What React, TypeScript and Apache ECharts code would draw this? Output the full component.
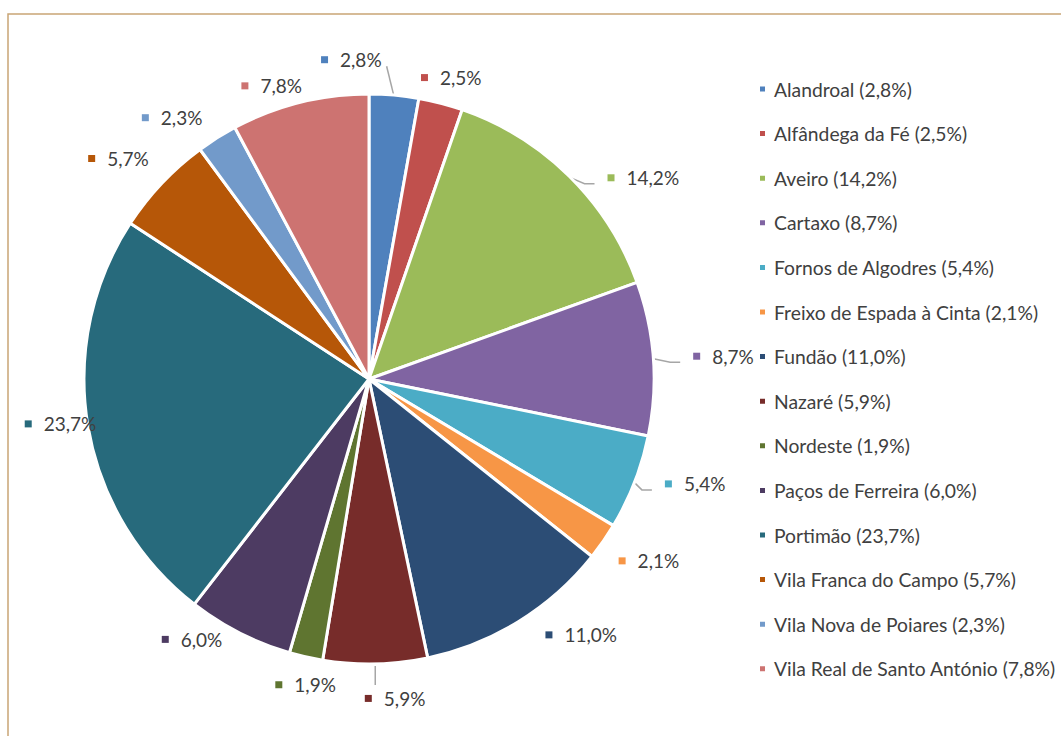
import React, { useEffect, useRef } from 'react';
import * as echarts from 'echarts';

const categories = [
  'Alandroal',
  'Alfândega da Fé',
  'Aveiro',
  'Cartaxo',
  'Fornos de Algodres',
  'Freixo de Espada à Cinta',
  'Fundão',
  'Nazaré',
  'Nordeste',
  'Paços de Ferreira',
  'Portimão',
  'Vila Franca do Campo',
  'Vila Nova de Poiares',
  'Vila Real de Santo António',
];
const values = [2.8, 2.5, 14.2, 8.7, 5.4, 2.1, 11.0, 5.9, 1.9, 6.0, 23.7, 5.7, 2.3, 7.8];
const colors = [
  '#4F81BD', '#C0504D', '#9BBB59', '#8064A2', '#4BACC6', '#F79646', '#2C4D75',
  '#772C2A', '#5F7530', '#4D3B62', '#276A7C', '#B65708', '#729ACA', '#CD7371',
];

// label styling: small nudges relative to the radial placement, and which labels get a leader line
const labelNudge = [
  [-46, 2], [1, 11], [45, 31], [12, 2], [10, -18], [9, -6], [42, -20],
  [19, -3], [8, -9], [-30, -28], [36, -13], [-13, 4], [-24, 13], [-19, 20],
];
const leaderLine = [true, false, true, true, true, false, false, true, false, false, false, false, false, false];

const FONT = 'Lato';
const TEXT_COLOR = '#404040';
const CX = 369;
const CY = 379;
const R = 285;
const GAP = 28;

const fmt = (v: number) => v.toFixed(1).replace('.', ',');

export default function App() {
  const ref = useRef<HTMLDivElement>(null);
  useEffect(() => {
    if (!ref.current) return;
    const chart = echarts.init(ref.current, undefined, { renderer: 'svg' });
    const total = values.reduce((a, b) => a + b, 0);
    const mids: number[] = [];
    let acc = 0;
    values.forEach((v) => {
      mids.push((acc + v / 2) / total);
      acc += v;
    });
    const rich: Record<string, any> = {
      t: { color: TEXT_COLOR, fontSize: 19, fontFamily: FONT, padding: [0, 0, 0, 12] },
    };
    colors.forEach((c, i) => {
      rich['m' + i] = { width: 7, height: 7, backgroundColor: c };
    });
    chart.setOption({
      animation: false,
      backgroundColor: '#ffffff',
      color: colors,
      graphic: [
        {
          type: 'rect',
          shape: { x: 8, y: 14, width: 1200, height: 900 },
          style: { fill: 'none', stroke: '#C9A576', lineWidth: 1.5 },
          silent: true,
        },
      ],
      legend: {
        orient: 'vertical',
        left: 758,
        top: 78,
        padding: 0,
        icon: 'rect',
        itemWidth: 7,
        itemHeight: 7,
        itemGap: 22.6,
        textStyle: {
          color: TEXT_COLOR,
          fontSize: 19.3,
          fontFamily: FONT,
          lineHeight: 22,
          padding: [0, 0, 0, 3],
        },
        formatter: (name: string) => {
          const i = categories.indexOf(name);
          return `${name} (${fmt(values[i])}%)`;
        },
        data: categories,
      },
      series: [
        {
          type: 'pie',
          center: [CX, CY],
          radius: R,
          startAngle: 90,
          clockwise: true,
          itemStyle: { borderColor: '#ffffff', borderWidth: 3 },
          emphasis: { disabled: true },
          label: {
            show: true,
            position: 'outside',
            overflow: 'none',
            formatter: (p: any) => `{m${p.dataIndex}|}{t|${fmt(p.value)}%}`,
            rich,
          },
          labelLine: { show: true, lineStyle: { color: '#A6A6A6', width: 1.5 } },
          labelLayout: (params: any) => {
            const i = params.dataIndex;
            const th = mids[i] * Math.PI * 2;
            const ux = Math.sin(th);
            const uy = -Math.cos(th);
            const w = params.labelRect.width;
            const h = params.labelRect.height;
            const ext = Math.min(
              Math.abs(ux) > 1e-6 ? w / 2 / Math.abs(ux) : Infinity,
              Math.abs(uy) > 1e-6 ? h / 2 / Math.abs(uy) : Infinity
            );
            const d = R + GAP + ext;
            const x = CX + d * ux + labelNudge[i][0];
            const y = CY + d * uy + labelNudge[i][1];
            const sx = CX + (R - 1) * ux;
            const sy = CY + (R - 1) * uy;
            let pts: number[][];
            if (Math.abs(uy) > 0.9) {
              const left = x - w / 2;
              const right = x + w / 2;
              const ex = sx > right ? right + 5 : sx < left ? left - 5 : sx;
              if (uy < 0) {
                pts = [[sx, sy], [ex, y + h / 2 - 3]];
              } else {
                pts = [[sx, sy + 3], [ex, y - h / 2 - 4]];
              }
            } else if (ux > 0) {
              const ex = x - w / 2 - 13;
              const ey = y + 6;
              pts = [[sx, sy], [ex - 10, ey], [ex, ey]];
            } else {
              const ex = x + w / 2 + 13;
              const ey = y + 6;
              pts = [[sx, sy], [ex + 10, ey], [ex, ey]];
            }
            return {
              x,
              y,
              align: 'center',
              verticalAlign: 'middle',
              labelLinePoints: pts,
            };
          },
          data: categories.map((name, i) => ({
            name,
            value: values[i],
            labelLine: { show: leaderLine[i] },
          })),
        },
      ],
    });
    return () => chart.dispose();
  }, []);
  return (
    <div
      ref={ref}
      style={{ position: 'fixed', left: 0, top: 0, width: 1061, height: 736 }}
    />
  );
}
